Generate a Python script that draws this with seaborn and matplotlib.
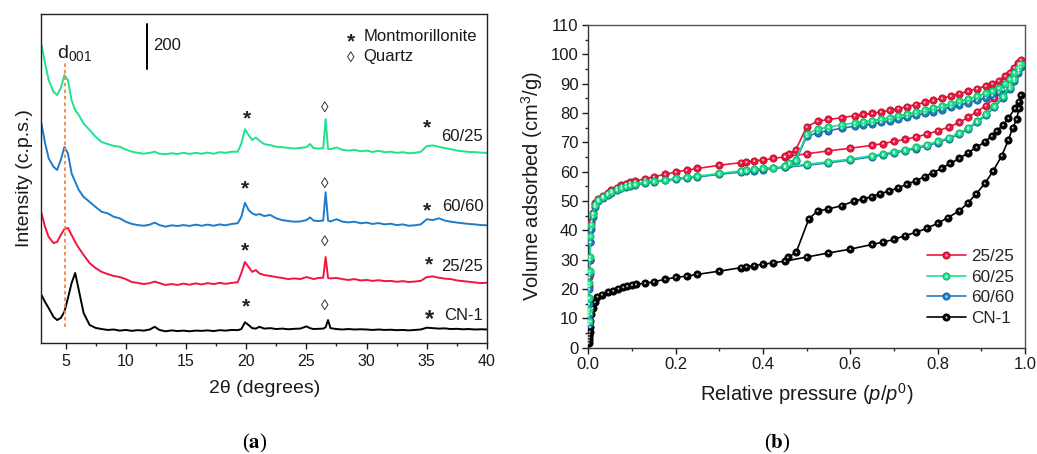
import matplotlib
matplotlib.use("Agg")
import matplotlib.pyplot as plt
import seaborn as sns
import pandas as pd
from matplotlib.lines import Line2D
from matplotlib.ticker import MultipleLocator

# ---------------- XRD patterns (stacked, c.p.s.) ----------------
two_theta = [
    3.0, 3.3, 3.6, 4.0, 4.3, 4.6, 4.9, 5.2, 5.5, 5.8,
    6.1, 6.5, 7.0, 7.5, 8.0, 8.5, 9.0, 9.5, 10.0, 10.5,
    11.0, 11.5, 12.0, 12.4, 12.8, 13.3, 13.8, 14.3, 14.8, 15.3,
    15.8, 16.3, 16.8, 17.3, 17.8, 18.3, 18.8, 19.3, 19.6, 19.9,
    20.2, 20.5, 20.8, 21.1, 21.5, 22.0, 22.5, 23.0, 23.5, 24.0,
    24.5, 25.0, 25.3, 25.6, 26.0, 26.4, 26.6, 26.8, 27.0, 27.5,
    28.0, 28.5, 29.0, 29.5, 30.0, 30.5, 31.0, 31.5, 32.0, 32.5,
    33.0, 33.5, 34.0, 34.5, 35.0, 35.5, 36.0, 36.5, 37.0, 37.5,
    38.0, 38.5, 39.0, 39.5, 40.0,
]
xrd_cn1 = [
    213, 182, 155, 116, 102, 111, 138, 200, 266, 311,
    235, 133, 80, 67, 62, 58, 60, 55, 58, 54,
    57, 55, 60, 72, 58, 52, 56, 53, 55, 52,
    55, 54, 56, 53, 57, 55, 58, 57, 62, 92,
    80, 66, 64, 72, 64, 66, 62, 64, 61, 63,
    64, 74, 66, 62, 63, 64, 70, 102, 66, 62,
    60, 62, 60, 61, 60, 58, 60, 58, 59, 57,
    58, 56, 58, 60, 68, 66, 64, 65, 62, 63,
    61, 62, 60, 61, 60,
]
xrd_25_25 = [
    577, 515, 471, 444, 449, 480, 506, 511, 480, 449,
    422, 391, 355, 333, 316, 306, 298, 293, 284, 271,
    267, 262, 266, 273, 266, 258, 262, 258, 264, 259,
    265, 260, 266, 262, 267, 263, 267, 270, 311, 360,
    338, 316, 324, 309, 302, 298, 293, 289, 284, 287,
    284, 293, 289, 284, 289, 290, 382, 289, 287, 289,
    284, 280, 284, 278, 280, 276, 279, 275, 276, 272,
    275, 271, 273, 276, 293, 296, 290, 286, 284, 278,
    275, 272, 269, 266, 268,
]
xrd_60_60 = [
    975, 888, 820, 783, 769, 813, 871, 842, 754, 716,
    680, 649, 627, 604, 583, 576, 561, 554, 539, 529,
    524, 521, 526, 535, 524, 517, 523, 520, 524, 520,
    526, 521, 526, 521, 527, 523, 529, 532, 561, 623,
    591, 576, 569, 573, 564, 569, 554, 546, 542, 539,
    540, 546, 558, 544, 542, 544, 670, 544, 540, 550,
    539, 536, 539, 532, 535, 529, 533, 527, 530, 524,
    527, 521, 523, 527, 550, 546, 554, 544, 539, 535,
    532, 529, 527, 524, 523,
]
xrd_60_25 = [
    1324, 1243, 1168, 1116, 1102, 1132, 1190, 1168, 1079, 1035,
    1013, 975, 946, 916, 893, 884, 876, 872, 860, 850,
    845, 841, 845, 850, 841, 839, 843, 840, 845, 840,
    845, 841, 846, 841, 848, 845, 850, 850, 886, 950,
    924, 902, 913, 899, 884, 879, 872, 870, 867, 864,
    867, 870, 884, 866, 864, 866, 995, 863, 861, 869,
    858, 855, 858, 852, 855, 849, 854, 848, 850, 845,
    848, 843, 845, 850, 875, 878, 872, 866, 861, 855,
    852, 849, 848, 846, 845,
]
xrd_names = ["CN-1", "25/25", "60/60", "60/25"]
xrd_label_y = [120, 342, 606, 917]
star_pos = [[(19.95, 187), (35.2, 133)], [(19.9, 435), (35.2, 373)],
            [(19.9, 710), (35.0, 613)], [(20.07, 1021), (35.0, 982)]]
quartz_y = [173, 457, 711, 1049]

# ---------------- N2 isotherms ----------------
p_ads = [0.0005, 0.001, 0.0015, 0.002, 0.003, 0.004, 0.005, 0.007, 0.01,
         0.015, 0.023, 0.033, 0.044, 0.053, 0.065, 0.076, 0.086, 0.095, 0.107,
         0.13, 0.15, 0.176, 0.2, 0.225, 0.25,
         0.3, 0.35, 0.362, 0.38, 0.4, 0.424, 0.45,
         0.5, 0.55, 0.6, 0.65, 0.675, 0.7, 0.725, 0.75, 0.775, 0.8, 0.825,
         0.85, 0.87, 0.89, 0.91, 0.93, 0.95, 0.965, 0.975, 0.985, 0.99]
p_des = [0.985, 0.975, 0.965, 0.955, 0.94, 0.925, 0.91, 0.89, 0.87, 0.85,
         0.83, 0.81, 0.79, 0.77, 0.75, 0.73, 0.71, 0.69, 0.67, 0.65,
         0.63, 0.61, 0.58, 0.55, 0.525, 0.5, 0.475, 0.46, 0.45]

ads_25_25 = [12, 17, 21, 24, 30, 36, 40, 43, 46,
             49.2, 50.6, 51.8, 52.8, 53.7, 54.6, 55.3, 55.9, 56.4, 56.8,
             57.6, 58.3, 59.1, 59.9, 60.5, 61.1,
             62.2, 63.1, 63.3, 63.7, 64.0, 64.5, 65.1,
             66.1, 67.1, 68.0, 69.0, 69.6, 70.3, 71.0, 71.8, 72.8, 73.9, 75.2,
             76.8, 78.6, 80.5, 82.5, 85.0, 88.0, 91.5, 94.0, 96.5, 98.2]
des_25_25 = [97.0, 95.5, 93.8, 92.6, 91.0, 90.0, 89.2, 88.3, 87.4, 86.6,
             85.8, 85.0, 84.3, 83.6, 82.9, 82.2, 81.5, 80.9, 80.4, 79.9,
             79.5, 79.1, 78.4, 77.8, 77.2, 75.3, 67.4, 66.0, 65.2]
ads_60_25 = [9, 13, 17, 22, 26, 31, 38, 42, 45.5,
             48.5, 50.2, 51.4, 52.4, 53.2, 54.0, 54.6, 55.1, 55.5, 55.8,
             56.4, 56.8, 57.3, 57.7, 58.1, 58.5,
             59.4, 60.3, 60.5, 60.8, 61.1, 61.4, 61.8,
             62.5, 63.4, 64.3, 65.5, 66.1, 66.8, 67.5, 68.3, 69.2, 70.3, 71.6,
             73.2, 75.0, 77.2, 79.6, 82.4, 85.8, 89.0, 91.5, 94.5, 96.8]
des_60_25 = [95.5, 93.8, 91.5, 90.0, 88.5, 87.5, 86.7, 85.7, 84.8, 84.0,
             83.2, 82.4, 81.7, 81.0, 80.3, 79.6, 79.0, 78.4, 77.9, 77.4,
             77.0, 76.6, 76.0, 75.2, 74.5, 72.8, 64.0, 63.0, 62.0]
ads_60_60 = [8, 11, 15, 20, 25, 30, 36, 40.5, 44.5,
             48.0, 49.9, 51.1, 52.1, 52.9, 53.7, 54.3, 54.8, 55.2, 55.5,
             56.1, 56.5, 57.0, 57.4, 57.8, 58.2,
             59.1, 59.9, 60.1, 60.4, 60.7, 61.1, 61.5,
             62.2, 63.0, 64.0, 65.1, 65.7, 66.4, 67.1, 67.9, 68.8, 69.9, 71.2,
             72.8, 74.6, 76.8, 79.2, 82.0, 85.2, 88.3, 90.8, 93.6, 95.8]
des_60_60 = [94.5, 92.0, 89.8, 88.2, 87.0, 86.0, 85.2, 84.3, 83.5, 82.7,
             82.0, 81.2, 80.5, 79.9, 79.2, 78.5, 77.9, 77.3, 76.8, 76.3,
             75.9, 75.5, 74.8, 74.0, 73.3, 72.0, 63.6, 62.6, 61.7]

p_ads_cn1 = [0.0005, 0.001, 0.0015, 0.002, 0.003, 0.004, 0.005, 0.007, 0.01,
             0.015, 0.021, 0.031, 0.046, 0.057, 0.069, 0.08, 0.089, 0.1, 0.109,
             0.13, 0.15, 0.176, 0.2, 0.225, 0.25,
             0.3, 0.35, 0.362, 0.38, 0.4, 0.424, 0.45,
             0.5, 0.55, 0.6, 0.65, 0.675, 0.7, 0.725, 0.75, 0.775, 0.8, 0.823,
             0.85, 0.869, 0.888, 0.908, 0.927, 0.947, 0.962, 0.972, 0.981,
             0.986, 0.99]
ads_cn1 = [1.5, 2.5, 3.5, 4.5, 5.5, 7, 9, 11.5, 13.5,
           15.5, 17.4, 18.1, 18.9, 19.4, 20.1, 20.6, 21.0, 21.4, 21.6,
           22.0, 22.5, 23.3, 24.0, 24.4, 25.0,
           26.1, 27.3, 27.6, 28.0, 28.4, 29.0, 29.5,
           30.9, 32.3, 33.6, 35.2, 36.0, 36.9, 38.2, 39.3, 40.7, 42.4, 44.3,
           46.7, 49.3, 52.4, 56.0, 60.2, 65.5, 70.8, 75.0, 77.8, 81.6, 86.1]
p_des_cn1 = [0.986, 0.977, 0.962, 0.95, 0.935, 0.924, 0.908, 0.889, 0.87, 0.85,
             0.828, 0.809, 0.79, 0.77, 0.75, 0.729, 0.71, 0.689, 0.668, 0.649,
             0.63, 0.609, 0.58, 0.55, 0.525, 0.505, 0.476, 0.457]
des_cn1 = [83.9, 81.6, 78.2, 75.9, 73.9, 72.2, 70.2, 68.3, 66.5, 64.5,
           62.8, 61.1, 59.7, 58.3, 56.9, 55.7, 54.5, 53.4, 52.5, 51.5,
           50.7, 50.0, 48.4, 47.3, 46.6, 43.9, 32.5, 30.8]

iso_names = ["25/25", "60/25", "60/60", "CN-1"]

# ---------------- styling ----------------
sns.set_theme(style="ticks")
plt.rcParams["font.family"] = ["Liberation Sans", "DejaVu Sans"]
plt.rcParams["mathtext.fontset"] = "custom"
plt.rcParams["mathtext.rm"] = "Liberation Sans"
plt.rcParams["mathtext.it"] = "Liberation Sans:italic"
plt.rcParams["mathtext.bf"] = "Liberation Sans:bold"
plt.rcParams["axes.linewidth"] = 1.0

colors = {"25/25": "#F0163E", "60/25": "#1DE38C", "60/60": "#1E7CC8", "CN-1": "#000000"}
edge = {"25/25": "#B00E2C", "60/25": "#10A865", "60/60": "#155A94", "CN-1": "#000000"}
ink = "#1a1a1a"

fig = plt.figure(figsize=(10.37, 4.54), dpi=100)
ax1 = fig.add_axes([0.0400, 0.2445, 0.4296, 0.7247])
ax2 = fig.add_axes([0.5673, 0.2341, 0.4211, 0.7108])

# ---------- panel (a): XRD ----------
xrd = pd.DataFrame({"2theta": two_theta, "CN-1": xrd_cn1, "25/25": xrd_25_25,
                    "60/60": xrd_60_60, "60/25": xrd_60_25})
for name in xrd_names:
    sns.lineplot(data=xrd, x="2theta", y=name, ax=ax1, color=colors[name],
                 lw=1.4, estimator=None, legend=False)

ax1.set_xlim(3, 40)
ax1.set_ylim(0, 1462)
ax1.xaxis.set_major_locator(MultipleLocator(5))
ax1.xaxis.set_minor_locator(MultipleLocator(2.5))
ax1.set_yticks([])
ax1.tick_params(axis="x", which="major", direction="out", length=4, width=1,
                labelsize=11.5, colors=ink, pad=4)
ax1.tick_params(axis="x", which="minor", direction="out", length=2.5, width=1)
for s in ax1.spines.values():
    s.set_color("#222222")
ax1.set_xlabel("2θ (degrees)", fontsize=14, color=ink, labelpad=8)
ax1.set_ylabel("Intensity (c.p.s.)", fontsize=14, color=ink, labelpad=6)

# d001 reference line and scale bar
ax1.plot([4.95, 4.95], [71, 1243], color="#F2874E", lw=1.3, ls=(0, (2, 1.6)))
ax1.text(4.3, 1290, r"d$_{001}$", fontsize=14, color=ink, ha="left", va="center")
ax1.plot([11.76, 11.76], [1217, 1417], color="black", lw=1.4)
ax1.text(12.29, 1320, "200", fontsize=12, color=ink, ha="left", va="center")


def glyph(ax, s, x, y, fs, shift, weight="normal"):
    ax.annotate(s, xy=(x, y), xytext=(0, -shift * fs), textcoords="offset points",
                ha="center", va="baseline", fontsize=fs, color="#222222",
                fontweight=weight)


for name, stars, qy, ly in zip(xrd_names, star_pos, quartz_y, xrd_label_y):
    for k, (sx, sy) in enumerate(stars):
        big = name == "CN-1" and k == 1
        glyph(ax1, "*", sx, sy, 17 if big else 15, 0.55, "bold")
    glyph(ax1, "◊", 26.55, qy, 11, 0.36)
    ax1.text(39.7, ly, name, fontsize=12, color=ink, ha="right", va="center")

glyph(ax1, "*", 28.68, 1364, 15, 0.55, "bold")
ax1.text(29.73, 1364, "Montmorillonite", fontsize=12, color=ink, ha="left", va="center")
glyph(ax1, "◊", 28.68, 1275, 11, 0.36)
ax1.text(29.73, 1275, "Quartz", fontsize=12, color=ink, ha="left", va="center")

# ---------- panel (b): isotherms ----------
iso_frames = {
    "25/25": (p_ads + p_des, ads_25_25 + des_25_25),
    "60/25": (p_ads + p_des, ads_60_25 + des_60_25),
    "60/60": (p_ads + p_des, ads_60_60 + des_60_60),
    "CN-1": (p_ads_cn1 + p_des_cn1, ads_cn1 + des_cn1),
}
for name in ["CN-1", "25/25", "60/60", "60/25"]:
    pp, vv = iso_frames[name]
    df = pd.DataFrame({"p": pp, "v": vv})
    sns.lineplot(data=df, x="p", y="v", ax=ax2, sort=False, estimator=None,
                 color=colors[name], lw=1.2, marker="o", markersize=5.2,
                 markeredgewidth=0.6, markeredgecolor=edge[name],
                 markerfacecolor=colors[name], legend=False, zorder=3)
    sns.scatterplot(data=df, x="p", y="v", ax=ax2, s=2.2, color="white",
                    edgecolor="none", alpha=0.75, legend=False, zorder=4)

ax2.set_xlim(0, 1)
ax2.set_ylim(0, 110)
ax2.xaxis.set_major_locator(MultipleLocator(0.2))
ax2.xaxis.set_minor_locator(MultipleLocator(0.1))
ax2.yaxis.set_major_locator(MultipleLocator(10))
ax2.yaxis.set_minor_locator(MultipleLocator(5))
ax2.tick_params(which="major", direction="out", length=4, width=1,
                labelsize=12, colors=ink, pad=3)
ax2.tick_params(which="minor", direction="out", length=2.5, width=1)
for side, s in ax2.spines.items():
    s.set_color("#333333" if side in ("left", "bottom") else "#555555")
ax2.set_xlabel(r"Relative pressure ($p/p^{0}$)", fontsize=14.5, color=ink, labelpad=6)
ax2.set_ylabel(r"Volume adsorbed (cm$^{3}$/g)", fontsize=14.5, color=ink, labelpad=4)

handles = []
for n in iso_names:
    base = Line2D([0], [0], color=colors[n], lw=1.2, marker="o", markersize=5.2,
                  markeredgewidth=0.6, markeredgecolor=edge[n],
                  markerfacecolor=colors[n])
    shine = Line2D([0], [0], ls="none", marker="o", markersize=1.7,
                   markerfacecolor="white", markeredgecolor="none", alpha=0.75)
    handles.append((base, shine))
ax2.legend(handles, iso_names, loc="upper left", bbox_to_anchor=(0.775, 0.305),
           frameon=False, fontsize=12.3, handlelength=2.3, handletextpad=0.3,
           labelspacing=0.32, borderpad=0, borderaxespad=0)

# panel letters
fig.text(0.246, 0.024, r"($\mathbf{a}$)", fontsize=15, family="Liberation Serif",
         math_fontfamily="stix", ha="center", va="center", color="black")
fig.text(0.750, 0.024, r"($\mathbf{b}$)", fontsize=15, family="Liberation Serif",
         math_fontfamily="stix", ha="center", va="center", color="black")

fig.savefig("out.png", dpi=100)
